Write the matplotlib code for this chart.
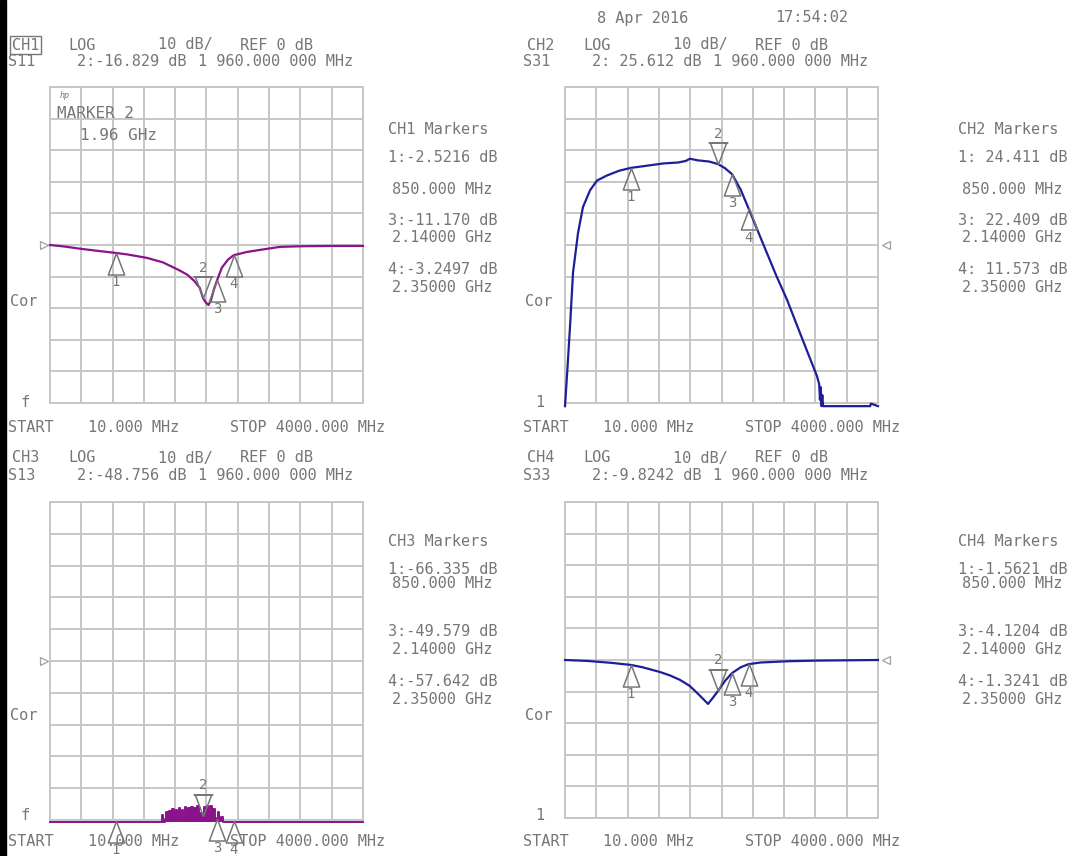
import numpy as np
import matplotlib
matplotlib.use('Agg')
import matplotlib.pyplot as plt
from matplotlib.path import Path
from matplotlib.patches import Rectangle

# figure size in pixels
W, H = 1084, 856

# sweep settings
f_start, f_stop = 10, 4000

# marker frequencies (MHz)
mk_freq = [850, 1960, 2140, 2350]

# CH1 S11 trace (MHz, dB)
ch1_f = [10, 200, 400, 600, 850, 1000, 1250, 1450, 1550, 1650, 1760, 1850, 1920,
         1960, 2000, 2030, 2060, 2100, 2140, 2200, 2280, 2350, 2520, 2700, 2940,
         3200, 3600, 4000]
ch1_v = [0, -0.5, -1.2, -1.8, -2.52, -3.0, -4.1, -5.5, -6.7, -7.9, -9.4, -11.4,
         -13.6, -16.8, -18.3, -19.0, -17.6, -14.0, -11.17, -7.2, -4.6, -3.25,
         -2.2, -1.5, -0.6, -0.4, -0.3, -0.3]
ch1_mk = [-2.5216, -16.829, -11.170, -3.2497]

# CH2 S31 trace
ch2_f = [10, 35, 74, 112, 176, 239, 329, 418, 545, 700, 850, 1000, 1259, 1450,
         1550, 1603, 1700, 1850, 1960, 2050, 2140, 2250, 2350, 2500, 2700, 2840,
         3000, 3222, 3250, 3260, 3270, 3280, 3290, 3300, 3310, 3500, 3800, 3900,
         3910, 4000]
ch2_v = [-51, -41.5, -25.8, -8.8, 3.8, 12.0, 17.3, 20.4, 22.0, 23.5, 24.41, 24.9,
         25.8, 26.1, 26.6, 27.3, 26.8, 26.4, 25.61, 24.3, 22.41, 17.5, 11.57,
         2.5, -9.5, -17.3, -27.5, -41.5, -44.0, -49.0, -45.0, -51, -47.5, -51,
         -51, -51, -51, -51, -50.2, -51]
ch2_mk = [24.411, 25.612, 22.409, 11.573]

# CH3 S13 trace (noise floor around the pass band)
ch3_f = [10, 1430, 1440, 1460, 1480, 1500, 1520, 1540, 1560, 1580, 1600, 1620,
         1640, 1660, 1680, 1700, 1720, 1740, 1760, 1780, 1800, 1820, 1840, 1860,
         1880, 1900, 1920, 1940, 1960, 1980, 2000, 2020, 2040, 2060, 2080, 2100,
         2120, 2140, 2160, 2180, 2200, 2220, 4000]
ch3_v = [-50.5, -50.5, -48.4, -50.5, -49.8, -47.6, -49.9, -47.2, -49.4, -46.6,
         -49.0, -46.9, -49.6, -46.2, -48.9, -46.8, -49.2, -45.9, -48.4, -46.3,
         -49.0, -45.8, -48.6, -46.1, -48.8, -45.6, -47.9, -49.1, -48.76, -46.0,
         -48.5, -45.7, -47.6, -45.5, -48.7, -46.4, -49.3, -49.58, -47.4, -49.6,
         -48.9, -50.5, -50.5]
ch3_mk = [-66.335, -48.756, -49.579, -57.642]

# CH4 S33 trace
ch4_f = [10, 300, 600, 850, 1000, 1221, 1350, 1476, 1600, 1693, 1770, 1833, 1900,
         1960, 2050, 2140, 2250, 2350, 2500, 2840, 3200, 3600, 4000]
ch4_v = [0, -0.3, -0.9, -1.56, -2.3, -3.8, -4.9, -6.3, -8.2, -10.4, -12.3, -13.9,
         -11.8, -9.82, -6.6, -4.12, -2.3, -1.32, -0.8, -0.4, -0.2, -0.1, 0]
ch4_mk = [-1.5621, -9.8242, -4.1204, -1.3241]

GRAY = '#767676'
GRID = '#c6c6c6'
PURPLE = '#8a128a'
NAVY = '#1e1e96'
FONT = 'DejaVu Sans Mono'
FS = 11

fig = plt.figure(figsize=(W / 100, H / 100), dpi=100)
fig.patch.set_facecolor('white')


def fx(x):
    return x / W


def fy(y):
    return 1 - y / H


def put(x, y, s, size=FS, **kw):
    fig.text(fx(x), fy(y), s, va='center', ha='left', fontsize=size,
             family=FONT, color=GRAY, **kw)


# black strip at the left edge
fig.add_artist(Rectangle((0, 0), 6 / W, 1, transform=fig.transFigure,
                         color='black', zorder=0))

# triangle markers with apex on the trace
up_tri = Path([(0, 0), (-0.38, -1), (0.38, -1), (0, 0)],
              [Path.MOVETO, Path.LINETO, Path.LINETO, Path.CLOSEPOLY])
down_tri = Path([(0, 0), (0.38, 1), (-0.38, 1), (0, 0), (-0.46, 1), (0.46, 1)],
                [Path.MOVETO, Path.LINETO, Path.LINETO, Path.CLOSEPOLY,
                 Path.MOVETO, Path.LINETO])


def panel(x0, y0, w, h, f, v, col, mk, ref_side, noisy=False):
    ax = fig.add_axes([fx(x0), fy(y0 + h), w / W, h / H])
    ax.set_xlim(f_start, f_stop)
    ax.set_ylim(-50, 50)
    ax.set_xticks(np.linspace(f_start, f_stop, 11))
    ax.set_yticks(np.arange(-50, 51, 10))
    ax.tick_params(length=0, labelbottom=False, labelleft=False)
    ax.grid(True, color=GRID, lw=1.4)
    for s in ax.spines.values():
        s.set_color(GRID)
        s.set_linewidth(1.4)
    if noisy:
        ax.fill_between(f, v, -50.5, step='mid', color=col, lw=0,
                        clip_on=False, zorder=3)
        ax.plot(f, v, color=col, lw=1.4, drawstyle='steps-mid',
                clip_on=False, zorder=3)
    else:
        ax.plot(f, v, color=col, lw=1.6, clip_on=False, zorder=3)

    # marker triangles and numbers
    mv = np.maximum(mk, -50.3)
    for i, (mf, val) in enumerate(zip(mk_freq, mv)):
        if i == 1:
            ax.plot([mf], [val], marker=down_tri, ms=31, mfc='none', mec=GRAY,
                    mew=1.1, clip_on=False, zorder=4)
            ax.annotate('2', (mf, val), xytext=(0, 22), textcoords='offset points',
                        ha='center', va='center', fontsize=10, family=FONT,
                        color=GRAY, annotation_clip=False)
        else:
            ax.plot([mf], [val], marker=up_tri, ms=31, mfc='none', mec=GRAY,
                    mew=1.1, clip_on=False, zorder=4)
            ax.annotate(str(i + 1), (mf, val), xytext=(0, -21),
                        textcoords='offset points', ha='center', va='center',
                        fontsize=10, family=FONT, color=GRAY,
                        annotation_clip=False)

    # reference level marker
    tr = ax.get_yaxis_transform()
    if ref_side == 'left':
        ax.plot([-0.018], [0], marker='>', ms=6, mfc='white', mec='#a0a0a0',
                mew=0.9, transform=tr, clip_on=False)
    else:
        ax.plot([1.025], [0], marker='<', ms=6, mfc='white', mec='#a0a0a0',
                mew=0.9, transform=tr, clip_on=False)
    return ax


panel(50, 87, 313, 316, ch1_f, ch1_v, PURPLE, ch1_mk, 'left')
panel(565, 87, 313, 316, ch2_f, ch2_v, NAVY, ch2_mk, 'right')
panel(50, 502, 313, 318, ch3_f, ch3_v, PURPLE, ch3_mk, 'left', noisy=True)
panel(565, 502, 313, 316, ch4_f, ch4_v, NAVY, ch4_mk, 'right')

# date stamp
put(597, 18, '8 Apr 2016')
put(775, 18, '17:54:02')

# channel headers
headers = [
    (0, 0, 'CH1', 'S11', '2:-16.829 dB', True),
    (515, 0, 'CH2', 'S31', '2: 25.612 dB', False),
    (0, 413, 'CH3', 'S13', '2:-48.756 dB', False),
    (515, 413, 'CH4', 'S33', '2:-9.8242 dB', False),
]
for dx, dy, ch, sp, m2, boxed in headers:
    if boxed:
        put(12 + dx, 45 + dy, ch, bbox=dict(boxstyle='square,pad=0.12',
                                            fc='none', ec=GRAY, lw=1))
    else:
        put(12 + dx, 45 + dy, ch)
    put(68 + dx, 45 + dy, 'LOG')
    put(158 + dx, 45 + dy, '10 dB/')
    put(240 + dx, 45 + dy, 'REF 0 dB')
    put(8 + dx, 62 + dy, sp)
    put(77 + dx, 62 + dy, m2)
    put(198 + dx, 62 + dy, '1 960.000 000 MHz')

# marker readout columns
columns = [
    (388, 0, 'CH1 Markers', ['1:-2.5216 dB', '3:-11.170 dB', '4:-3.2497 dB']),
    (958, 0, 'CH2 Markers', ['1: 24.411 dB', '3: 22.409 dB', '4: 11.573 dB']),
    (388, 411, 'CH3 Markers', ['1:-66.335 dB', '3:-49.579 dB', '4:-57.642 dB']),
    (958, 411, 'CH4 Markers', ['1:-1.5621 dB', '3:-4.1204 dB', '4:-1.3241 dB']),
]
for x, dy, title, vals in columns:
    put(x, 130 + dy, title)
    put(x, 158 + dy, vals[0])
    put(x + 4, 190 + dy if dy == 0 else 172 + dy, '850.000 MHz')
    put(x, 221 + dy, vals[1])
    put(x + 4, 238 + dy, '2.14000 GHz')
    put(x, 270 + dy, vals[2])
    put(x + 4, 287 + dy if dy == 0 else 289 + dy, '2.35000 GHz')

# side labels and sweep limits
for dx, dy in [(0, 0), (515, 0), (0, 413), (515, 413)]:
    put(10 + dx, 302 + dy, 'Cor')
    put(20 + dx, 403 + dy, '1' if dx else 'f')
    put(8 + dx, 428 + dy, 'START')
    put(88 + dx, 428 + dy, '10.000 MHz')
    put(230 + dx, 428 + dy, 'STOP 4000.000 MHz')

# marker annotation inside CH1 grid
put(60, 95, 'hp', size=6, style='italic')
put(57, 113, 'MARKER 2', size=11.5)
put(80, 136, '1.96 GHz', size=11.5)

fig.savefig('out.png', dpi=100, facecolor='white')
plt.close('all')
